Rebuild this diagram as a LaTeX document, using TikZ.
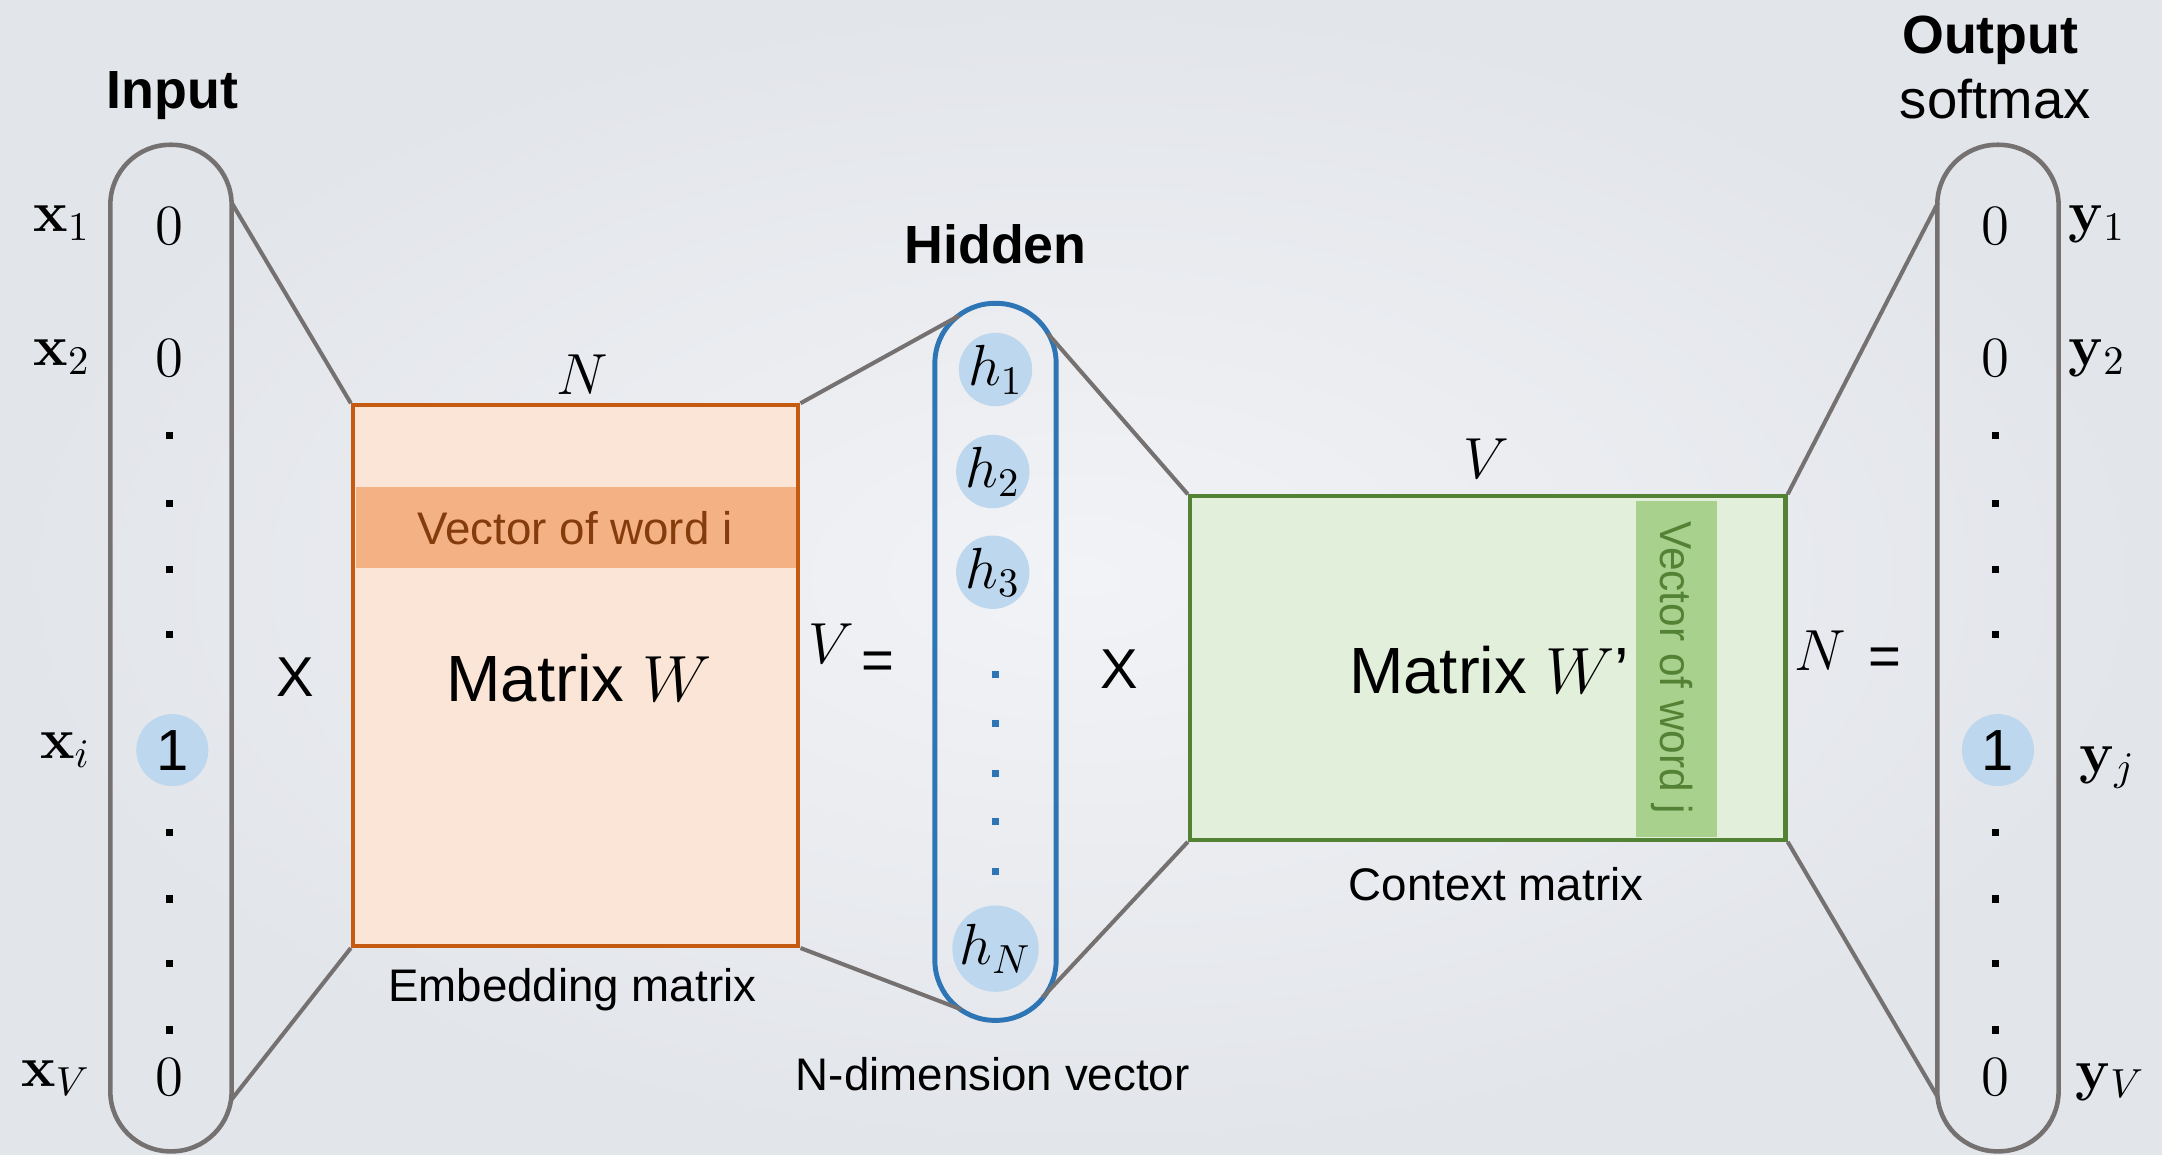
\RequirePackage{fix-cm}
\documentclass[tikz,border=0pt]{standalone}
\usepackage[no-math]{fontspec}
\setmainfont{Liberation Sans}
\usepackage{graphicx}
\definecolor{bgin}{RGB}{242,243,246}
\definecolor{bgout}{RGB}{226,229,234}
\definecolor{capgray}{RGB}{118,113,113}
\definecolor{orfill}{RGB}{251,229,214}
\definecolor{orline}{RGB}{197,90,17}
\definecolor{orstripe}{RGB}{244,177,131}
\definecolor{ortext}{RGB}{132,60,12}
\definecolor{grfill}{RGB}{226,239,218}
\definecolor{grline}{RGB}{84,130,53}
\definecolor{grstripe}{RGB}{169,209,142}
\definecolor{grtext}{RGB}{84,130,53}
\definecolor{hblue}{RGB}{46,117,182}
\definecolor{cblue}{RGB}{189,215,238}
\begin{document}
\begin{tikzpicture}[x=0.13788mm,y=-0.13788mm,
  capsule/.style={draw=capgray, line width=1.3pt, rounded corners=6.0mm, minimum width=12.13mm, inner sep=0},
  hcapsule/.style={draw=hblue, line width=1.4pt, rounded corners=6.0mm, minimum width=12.13mm, inner sep=0},
  link/.style={draw=capgray, line width=1.15pt},
  bubble/.style={circle, fill=cblue, minimum size=7.2mm, inner sep=0, font=\fontsize{16.5}{19}\selectfont},
  title/.style={font=\fontsize{15.3}{18}\selectfont\bfseries, inner sep=0},
  sub/.style={font=\fontsize{15.5}{18}\selectfont, inner sep=0},
  caption/.style={font=\fontsize{13}{15}\selectfont, inner sep=0},
  big/.style={font=\fontsize{18.6}{22}\selectfont, inner sep=0},
  sym/.style={font=\fontsize{16}{19}\selectfont, inner sep=0},
  mlabel/.style={font=\fontsize{16.5}{19}\selectfont, inner sep=0},
  val/.style={font=\fontsize{16.2}{19}\selectfont, inner sep=0},
  wbox/.style={draw=orline, fill=orfill, line width=1.2pt, inner sep=0},
  gbox/.style={draw=grline, fill=grfill, line width=1.2pt, inner sep=0}
]
% background
\shade[inner color=bgin, outer color=bgout] (0,0) rectangle (1568,837);
\useasboundingbox (0,0) rectangle (1568,837);

% capsules
\node[capsule, minimum height=100.65mm] (inp) at (124,470) {};
\node[capsule, minimum height=100.65mm] (outp) at (1449,470) {};
\node[hcapsule, minimum height=71.7mm] (hid) at (722,480) {};

% matrices
\node[wbox, minimum width=44.54mm, minimum height=54.05mm] (W) at (417.5,490) {};
\node[gbox, minimum width=59.56mm, minimum height=34.33mm] (Wp) at (1079,484.5) {};
\fill[orstripe] (258,353) rectangle (577,412);
\fill[grstripe] (1186.5,363) rectangle (1245,607);

% connector end points on the capsules
\coordinate (inTop) at (168,147);
\coordinate (inBot) at (167.5,798);
\coordinate (hidTL) at (695.5,229);
\coordinate (hidBL) at (697,732);
\coordinate (hidTR) at (760,242);
\coordinate (hidBR) at (756,723.5);
\coordinate (outTop) at (1405.5,147);
\coordinate (outBot) at (1405.5,796);

% connectors
\draw[link] (inTop) -- (W.north west);
\draw[link] (inBot) -- (W.south west);
\draw[link] (W.north east) -- (hidTL);
\draw[link] (W.south east) -- (hidBL);
\draw[link] (hidTR) -- (Wp.north west);
\draw[link] (hidBR) -- (Wp.south west);
\draw[link] (Wp.north east) -- (outTop);
\draw[link] (Wp.south east) -- (outBot);

% titles
\node[title, anchor=base] (tin) at (125,79) {Input};
\node[title, anchor=base] (tout) at (1443.5,39) {Output};
\node[sub, anchor=base] (tsoft) at (1447,86) {softmax};
\node[title, anchor=base] (thid) at (722,191) {Hidden};

% input vector
\node[val] (xv1) at (123,164) {$0$};
\node[val] (xv2) at (123,260) {$0$};
\node[bubble] (xvi) at (125,544) {1};
\node[val] (xvV) at (123,781) {$0$};
\foreach \yy in {316,365,413,460,604,652,699,747}
  \fill (120.5,\yy) ++(0,-2.6) rectangle ++(5.2,5.2);
\node[mlabel, anchor=base east] (lx1) at (66,168) {$\mathbf{x}_1$};
\node[mlabel, anchor=base east] (lx2) at (66,265) {$\mathbf{x}_2$};
\node[mlabel, anchor=base east] (lxi) at (66,550) {$\mathbf{x}_i$};
\node[mlabel, anchor=base east] (lxV) at (66,788) {$\mathbf{x}_V$};

% output vector
\node[val] (yv1) at (1447,164) {$0$};
\node[val] (yv2) at (1447,260) {$0$};
\node[bubble] (yvj) at (1449,544) {1};
\node[val] (yvV) at (1447,781) {$0$};
\foreach \yy in {316,365,413,460,604,652,699,747}
  \fill (1444.5,\yy) ++(0,-2.6) rectangle ++(5.2,5.2);
\node[mlabel, anchor=base west] (ly1) at (1500,168) {$\mathbf{y}_1$};
\node[mlabel, anchor=base west] (ly2) at (1500,265) {$\mathbf{y}_2$};
\node[mlabel, anchor=base west] (lyj) at (1508,560) {$\mathbf{y}_j$};
\node[mlabel, anchor=base west] (lyV) at (1505,790) {$\mathbf{y}_V$};

% hidden vector
\node[bubble] (h1) at (722,268) {$h_1$};
\node[bubble] (h2) at (720,342) {$h_2$};
\node[bubble] (h3) at (720,415) {$h_3$};
\node[bubble] (hN) at (722,688) {$h_N$};
\foreach \yy in {489,525,561,596,632}
  \fill[hblue] (719.8,\yy) ++(0,-2.5) rectangle ++(4.5,5);

% matrix W texts
\node[caption, text=ortext] (vwi) at (417,383) {Vector of word i};
\node[big] (mw) at (420,492) {Matrix $W$};
\node[mlabel] (nw) at (422,272) {$N$};
\node[caption, anchor=base] (emb) at (415,726) {Embedding matrix};

% matrix W' texts
\node[inner sep=0, rotate=-90, text=grtext, font=\fontsize{12.7}{15}\selectfont] (vwj) at (1212.5,484) {\scalebox{0.95}[1]{Vector of word j}};
\node[big] (mwp) at (1080,486) {Matrix $W$’};
\node[mlabel] (vwp) at (1078,333) {$V$};
\node[caption, anchor=base] (ctx) at (1085,653) {Context matrix};

% operators
\node[sym] (times1) at (214,491) {X};
\node[sym] (times2) at (812,485) {X};
\node[mlabel] (vdim) at (603,467) {$V$};
\node[sym] (eq1) at (637,483) {=};
\node[mlabel] (ndim) at (1320,472) {$N$};
\node[sym] (eq2) at (1367,480) {=};

\node[caption, anchor=base] (ndv) at (720,791) {N-dimension vector};
\end{tikzpicture}
\end{document}
